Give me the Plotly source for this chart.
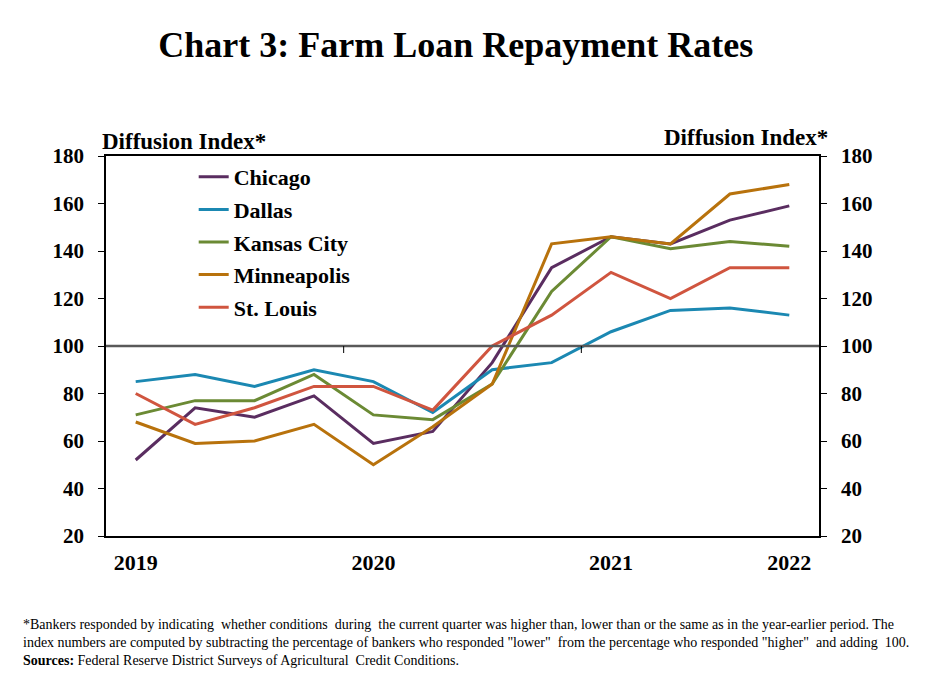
import plotly.graph_objects as go

QUARTERS = ["2019Q1", "2019Q2", "2019Q3", "2019Q4",
            "2020Q1", "2020Q2", "2020Q3", "2020Q4",
            "2021Q1", "2021Q2", "2021Q3", "2021Q4"]

CHICAGO = [52, 74, 70, 79, 59, 64, 93, 133, 146, 143, 153, 159]
DALLAS = [85, 88, 83, 90, 85, 72, 90, 93, 106, 115, 116, 113]
KANSAS_CITY = [71, 77, 77, 88, 71, 69, 84, 123, 146, 141, 144, 142]
MINNEAPOLIS = [68, 59, 60, 67, 50, 66, 84, 143, 146, 143, 164, 168]
ST_LOUIS = [80, 67, 74, 83, 83, 73, 100, 113, 131, 120, 133, 133]

TICK_AT = ["2019Q1", "2020Q1", "2021Q1", "2021Q4"]
TICK_TEXT = ["2019", "2020", "2021", "2022"]
YEAR_BREAKS = [3.5, 7.5]  # between Q4 and Q1

SERIES = [
    ("Chicago", CHICAGO, "#5a2d60"),
    ("Dallas", DALLAS, "#1b88b2"),
    ("Kansas City", KANSAS_CITY, "#6b8a34"),
    ("Minneapolis", MINNEAPOLIS, "#b8720c"),
    ("St. Louis", ST_LOUIS, "#d0553f"),
]

FONT = "Liberation Serif"
# the page body adds ~8px offset, so plot box is placed 8px up/left
L, T, PW, PH = 98, 148, 713, 380

fig = go.Figure()
for i, (name, vals, color) in enumerate(SERIES):
    fig.add_trace(go.Scatter(
        x=QUARTERS, y=vals, mode="lines", name=name,
        legendgroup=f"g{i}",
        line=dict(color=color, width=3),
    ))

# invisible copy so the right-hand axis is drawn
fig.add_trace(go.Scatter(
    x=QUARTERS, y=ST_LOUIS, mode="lines", yaxis="y2",
    line=dict(color="rgba(0,0,0,0)"), showlegend=False, hoverinfo="skip",
))

tick_font = dict(family=FONT, size=21, color="black", weight="bold")

fig.update_layout(
    width=925, height=693,
    paper_bgcolor="white", plot_bgcolor="white",
    margin=dict(l=L, r=925 - L - PW, t=T, b=693 - T - PH),
    font=dict(family=FONT, color="black"),
    title=dict(
        text="<b>Chart 3: Farm Loan Repayment Rates</b>",
        font=dict(family=FONT, size=36, color="black"),
        x=0.484, xanchor="center", y=0.947, yanchor="middle",
    ),
    xaxis=dict(
        type="category", range=[-0.5, 11.5],
        tickvals=TICK_AT, ticktext=TICK_TEXT,
        tickfont=dict(family=FONT, size=22, color="black", weight="bold"),
        ticks="", showgrid=False, zeroline=False,
        showline=True, linecolor="black", linewidth=1.5, mirror=True,
        ticklabelstandoff=6,
    ),
    yaxis=dict(
        range=[20, 180], dtick=20, tickfont=tick_font,
        ticks="outside", ticklen=6, tickcolor="black",
        showgrid=False, zeroline=False,
        showline=True, linecolor="black", linewidth=1.5,
        ticklabelstandoff=10,
    ),
    yaxis2=dict(
        range=[20, 180], dtick=20, tickfont=tick_font,
        overlaying="y", side="right",
        ticks="outside", ticklen=6, tickcolor="black",
        showgrid=False, zeroline=False,
        showline=True, linecolor="black", linewidth=1.5,
        ticklabelstandoff=10,
    ),
    legend=dict(
        x=0.123, y=1.0, xanchor="left", yanchor="top",
        bgcolor="rgba(0,0,0,0)", traceorder="grouped", tracegroupgap=1,
        font=dict(family=FONT, size=22, color="black", weight="bold"),
    ),
    showlegend=True,
)

# reference line at 100 with year-break ticks
fig.add_hline(y=100, line=dict(color="#595959", width=2.5))
for xb in YEAR_BREAKS:
    fig.add_shape(type="line", xref="x", yref="y",
                  x0=xb, x1=xb, ysizemode="pixel", yanchor=100, y0=0, y1=-7,
                  line=dict(color="black", width=1))

fig.add_annotation(text="<b>Diffusion Index*</b>", xref="paper", yref="paper",
                   x=-0.008, y=1.0, xanchor="left", yanchor="bottom",
                   showarrow=False, font=dict(family=FONT, size=23, color="black"))
fig.add_annotation(text="<b>Diffusion Index*</b>", xref="paper", yref="paper",
                   x=1.015, y=1.01, xanchor="right", yanchor="bottom",
                   showarrow=False, font=dict(family=FONT, size=23, color="black"))

footnote = (
    "*Bankers responded by indicating  whether conditions  during  the current quarter "
    "was higher than, lower than or the same as in the year-earlier period. The<br>"
    "index numbers are computed by subtracting the percentage of bankers who responded "
    "\"lower\"  from the percentage who responded \"higher\"  and adding  100.<br>"
    "<b>Sources:</b> Federal Reserve District Surveys of Agricultural  Credit Conditions."
)
fig.add_annotation(text=footnote, xref="paper", yref="paper",
                   x=(13 - L) / PW, y=-(615 - 8 - T - PH) / PH,
                   xanchor="left", yanchor="top", align="left",
                   showarrow=False, font=dict(family=FONT, size=14, color="black"))

fig.write_html("out.html")
